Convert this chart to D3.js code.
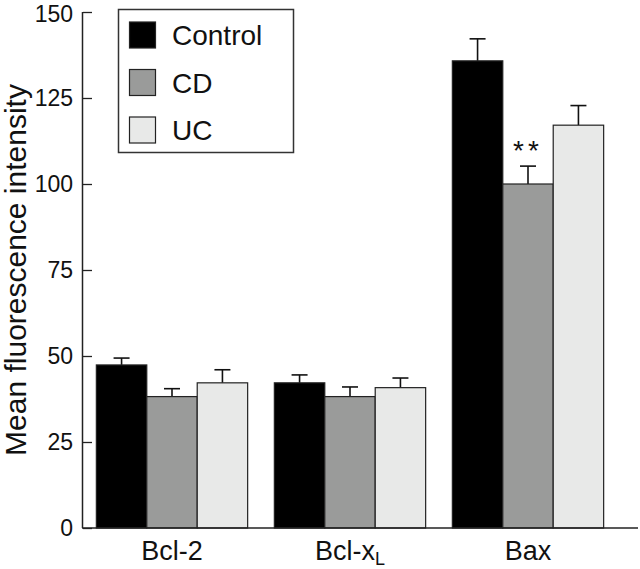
<!DOCTYPE html>
<html>
<head>
<meta charset="utf-8">
<script src="https://cdn.jsdelivr.net/npm/d3@7/dist/d3.min.js"></script>
<style>
  html, body { margin: 0; padding: 0; background: #fff; }
  svg { display: block; font-family: "Liberation Sans", Arial, Helvetica, sans-serif; }
</style>
</head>
<body>
<svg id="chart" width="640" height="569"></svg>
<script>
const categories = ["Bcl-2", "Bcl-xL", "Bax"];
const seriesNames = ["Control", "CD", "UC"];
const seriesColors = ["#000000", "#9a9b9a", "#e8e9e8"];
const controlValues = [47.4, 42.2, 135.8];
const cdValues = [38.2, 38.2, 100];
const ucValues = [42.2, 40.8, 117.1];
const controlErrors = [2.0, 2.3, 6.4];
const cdErrors = [2.3, 2.8, 5.2];
const ucErrors = [3.8, 2.8, 5.7];
const yTicks = [0, 25, 50, 75, 100, 125, 150];
const significance = [null, null, null, null, null, null, null, "**", null]; // index = cat*3+series

const seriesValues = [controlValues, cdValues, ucValues];
const seriesErrors = [controlErrors, cdErrors, ucErrors];

const svg = d3.select("#chart");
const mLeft = 83, mRight = 617, mTop = 12, mBottom = 528;

const x = d3.scaleBand().domain(categories).range([mLeft, mRight]).paddingInner(0.15).paddingOuter(0.075);
const xs = d3.scaleBand().domain(seriesNames).range([0, x.bandwidth()]).padding(0);
const y = d3.scaleLinear().domain([0, 150]).range([mBottom, mTop]);

const rows = [];
categories.forEach((c, i) => {
  seriesNames.forEach((s, j) => {
    rows.push({cat: c, ser: s, color: seriesColors[j], v: seriesValues[j][i], e: seriesErrors[j][i], sig: significance[i * 3 + j]});
  });
});

// error bars
const eb = svg.append("g");
rows.forEach(d => {
  const cx = x(d.cat) + xs(d.ser) + xs.bandwidth() / 2;
  eb.append("line").attr("x1", cx).attr("x2", cx).attr("y1", y(d.v)).attr("y2", y(d.v + d.e))
    .attr("stroke", "#111").attr("stroke-width", 1.6);
  eb.append("line").attr("x1", cx - 8).attr("x2", cx + 8).attr("y1", y(d.v + d.e)).attr("y2", y(d.v + d.e))
    .attr("stroke", "#111").attr("stroke-width", 1.6);
});

// bars
svg.append("g").selectAll("rect").data(rows).join("rect")
  .attr("x", d => x(d.cat) + xs(d.ser))
  .attr("y", d => y(d.v))
  .attr("width", xs.bandwidth())
  .attr("height", d => y(0) - y(d.v))
  .attr("fill", d => d.color)
  .attr("stroke", "#222")
  .attr("stroke-width", 1.2);

// significance marks
rows.filter(d => d.sig).forEach(d => {
  const cx = x(d.cat) + xs(d.ser) + xs.bandwidth() / 2;
  svg.append("text").attr("x", cx).attr("y", y(d.v + d.e) - 6)
    .attr("text-anchor", "middle").attr("font-size", 28).attr("letter-spacing", 4)
    .attr("fill", "#111").text(d.sig);
});

// y axis
const yAxis = d3.axisLeft(y).tickValues(yTicks).tickSize(-9).tickPadding(10).tickFormat(d3.format("d"));
const gy = svg.append("g").attr("transform", `translate(${mLeft},0)`).call(yAxis);
gy.select(".domain").attr("d", `M${-0.5},${mTop}V${mBottom}`).attr("stroke", "#222").attr("stroke-width", 1.5);
gy.selectAll(".tick line").attr("stroke", "#222").attr("stroke-width", 1.3);
gy.selectAll(".tick text").attr("font-size", 23).attr("fill", "#111").attr("font-family", "Liberation Sans, Arial, sans-serif")
  .attr("y", d => d === 150 ? 2 : 0);

// x axis line
svg.append("line").attr("x1", mLeft - 1).attr("x2", 638).attr("y1", mBottom).attr("y2", mBottom)
  .attr("stroke", "#222").attr("stroke-width", 1.6);

// x labels
const xl = svg.append("g");
categories.forEach(c => {
  const t = xl.append("text").attr("x", x(c) + x.bandwidth() / 2).attr("y", 560)
    .attr("text-anchor", "middle").attr("font-size", 27).attr("fill", "#111");
  if (c === "Bcl-xL") {
    t.append("tspan").text("Bcl-x");
    t.append("tspan").attr("font-size", 18).attr("dy", 5).text("L");
  } else {
    t.text(c);
  }
});

// y title
svg.append("text").attr("transform", `translate(26,${(mTop + mBottom) / 2}) rotate(-90)`)
  .attr("text-anchor", "middle").attr("font-size", 30).attr("fill", "#111")
  .text("Mean fluorescence intensity");

// legend
const lg = svg.append("g");
lg.append("rect").attr("x", 118.5).attr("y", 9.5).attr("width", 175).attr("height", 143)
  .attr("fill", "#fff").attr("stroke", "#333").attr("stroke-width", 1.5);
seriesNames.forEach((s, i) => {
  const yy = 22 + i * 47.5;
  lg.append("rect").attr("x", 129.5).attr("y", yy).attr("width", 26).attr("height", 26)
    .attr("fill", seriesColors[i]).attr("stroke", "#222").attr("stroke-width", 1.2);
  lg.append("text").attr("x", 172).attr("y", yy + 23).attr("font-size", 28).attr("fill", "#111").text(s);
});
</script>
</body>
</html>
